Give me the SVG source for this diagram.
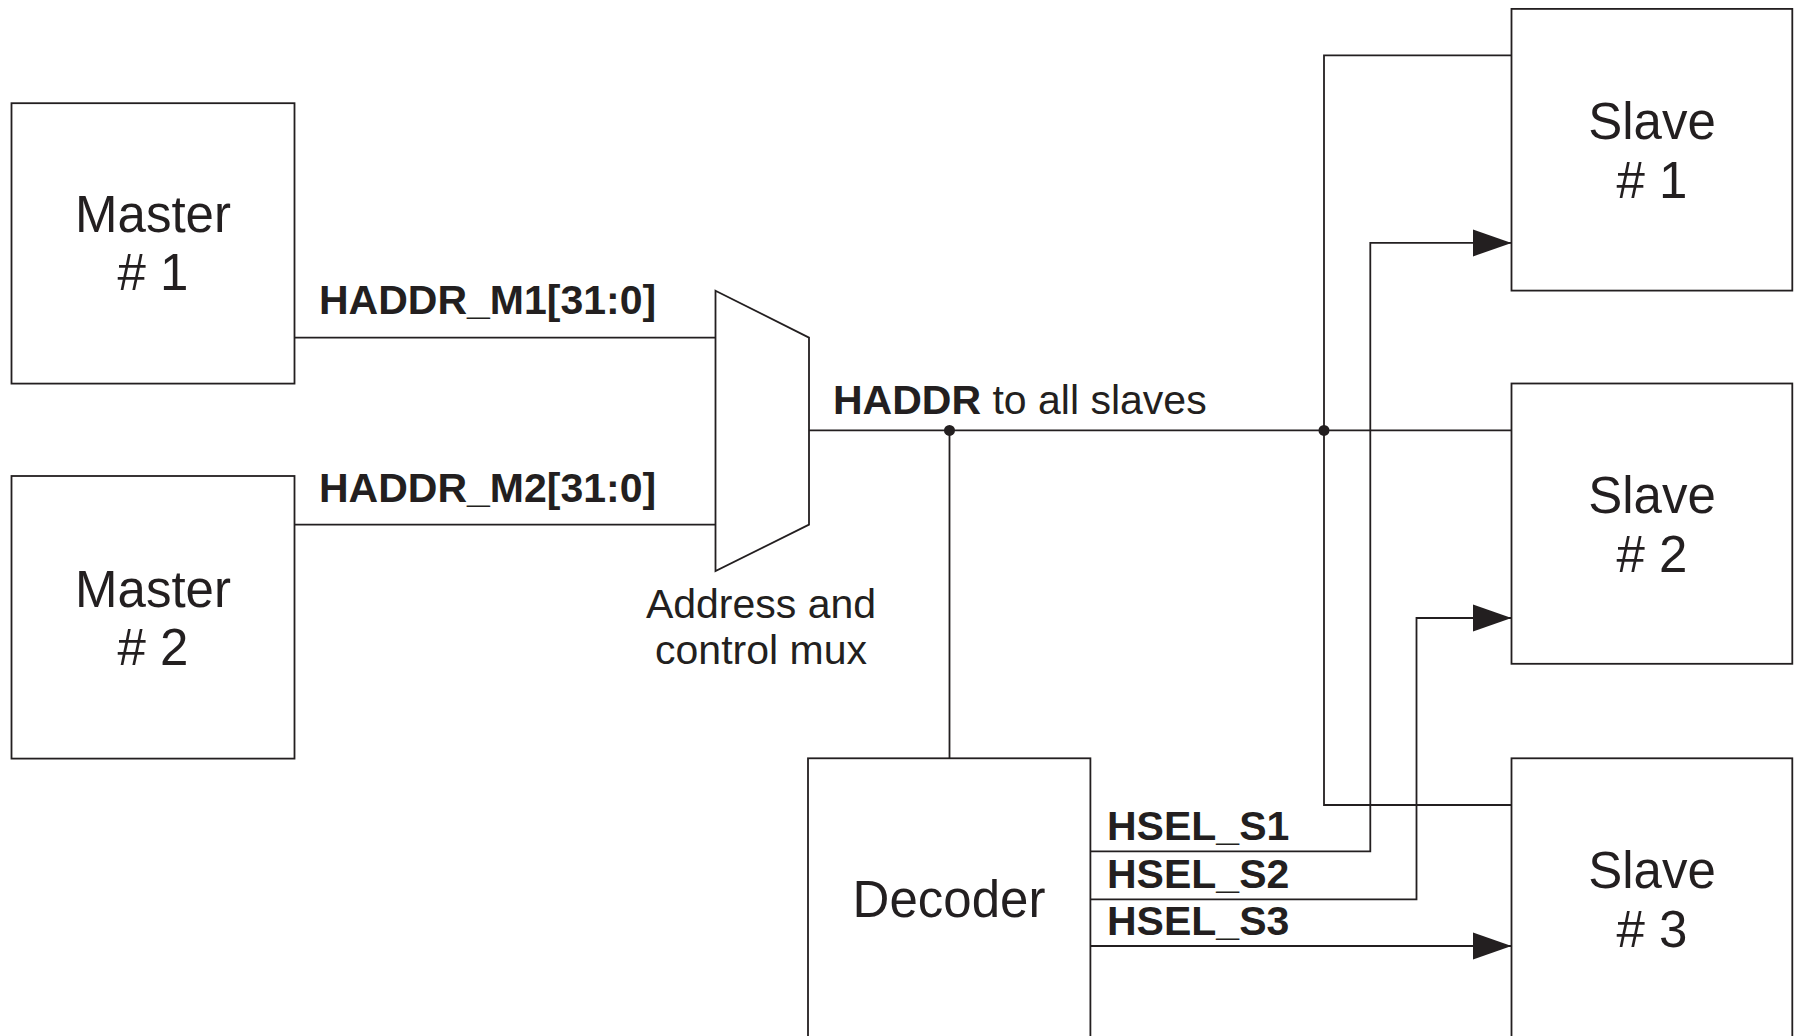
<svg xmlns="http://www.w3.org/2000/svg" width="1798" height="1036" viewBox="0 0 1798 1036">
<style>
.box{fill:#fff;stroke:#231f20;stroke-width:1.8}
.ln{fill:none;stroke:#231f20;stroke-width:1.8}
.big{font-family:"Liberation Sans",Arial,sans-serif;font-size:51px;fill:#231f20;text-anchor:middle}
.lbl{font-family:"Liberation Sans",Arial,sans-serif;font-size:41px;fill:#231f20}
.b{font-weight:bold}
.ah{fill:#231f20}
</style>
<defs>
<marker id="arr" markerUnits="userSpaceOnUse" markerWidth="40" markerHeight="28" refX="39" refY="13.7" orient="auto" viewBox="0 0 40 28">
<polygon class="ah" points="0,0 39,13.7 0,27.4"/>
</marker>
</defs>
<rect width="1798" height="1036" fill="#fff"/>
<g id="connectors">
<line class="ln" x1="294.5" y1="337.6" x2="715.5" y2="337.6"/>
<line class="ln" x1="294.5" y1="524.6" x2="715.5" y2="524.6"/>
<line class="ln" x1="809" y1="430.4" x2="1511.5" y2="430.4"/>
<line class="ln" x1="949.5" y1="430.4" x2="949.5" y2="758.3"/>
<polyline class="ln" points="1511.5,55.4 1324,55.4 1324,805 1511.5,805"/>
<polyline class="ln" points="1090.4,851.3 1370.3,851.3 1370.3,242.9 1511.5,242.9" marker-end="url(#arr)"/>
<polyline class="ln" points="1090.4,899.3 1416.5,899.3 1416.5,618 1511.5,618" marker-end="url(#arr)"/>
<line class="ln" x1="1090.4" y1="946" x2="1511.5" y2="946" marker-end="url(#arr)"/>
<circle class="ah" cx="949.5" cy="430.4" r="5.5"/>
<circle class="ah" cx="1324" cy="430.4" r="5.5"/>
<text class="lbl b" x="319" y="314.4">HADDR_M1[31:0]</text>
<text class="lbl b" x="319" y="501.9">HADDR_M2[31:0]</text>
<text class="lbl" x="833" y="414.3"><tspan class="b">HADDR</tspan> to all slaves</text>
<text class="lbl b" x="1107" y="840">HSEL_S1</text>
<text class="lbl b" x="1107" y="888">HSEL_S2</text>
<text class="lbl b" x="1107" y="935">HSEL_S3</text>
</g>
<g id="master1">
<rect class="box" x="11.5" y="103.2" width="283" height="280.4"/>
<text class="big" x="153" y="232">Master</text>
<text class="big" x="153" y="290"># 1</text>
</g>
<g id="master2">
<rect class="box" x="11.5" y="476" width="283" height="282.6"/>
<text class="big" x="153" y="607">Master</text>
<text class="big" x="153" y="665"># 2</text>
</g>
<g id="mux">
<polygon class="box" points="715.5,290.7 809,337.6 809,524.6 715.5,571"/>
<text class="lbl" x="761" y="618.3" text-anchor="middle">Address and</text>
<text class="lbl" x="761" y="664" text-anchor="middle">control mux</text>
</g>
<g id="decoder">
<rect class="box" x="808" y="758.3" width="282.4" height="300"/>
<text class="big" x="949" y="916.7">Decoder</text>
</g>
<g id="slave1">
<rect class="box" x="1511.5" y="8.9" width="280.8" height="281.7"/>
<text class="big" x="1652" y="139.3">Slave</text>
<text class="big" x="1652" y="197.8"># 1</text>
</g>
<g id="slave2">
<rect class="box" x="1511.5" y="383.5" width="280.8" height="280.3"/>
<text class="big" x="1652" y="513.4">Slave</text>
<text class="big" x="1652" y="572.3"># 2</text>
</g>
<g id="slave3">
<rect class="box" x="1511.5" y="758.3" width="280.8" height="300"/>
<text class="big" x="1652" y="888.3">Slave</text>
<text class="big" x="1652" y="946.7"># 3</text>
</g>
</svg>
